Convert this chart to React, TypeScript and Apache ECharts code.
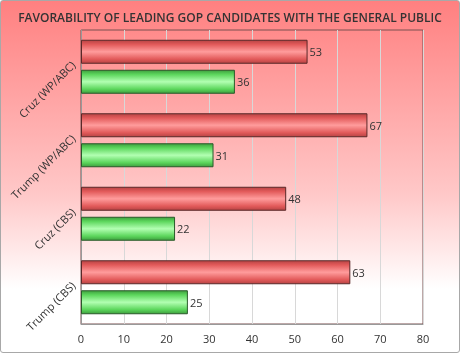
import React, { useEffect, useRef } from "react";
import * as echarts from "echarts";

const categories = ["Cruz (WP/ABC)", "Trump (WP/ABC)", "Cruz (CBS)", "Trump (CBS)"];
const unfavorable = [53, 67, 48, 63];
const favorable = [36, 31, 22, 25];
const xTicks = { min: 0, max: 80, interval: 10 };
const title = "FAVORABILITY OF LEADING GOP CANDIDATES WITH THE GENERAL PUBLIC";

const FONT = "'Open Sans', 'DejaVu Sans', sans-serif";

const redGrad = new echarts.graphic.LinearGradient(0, 0, 0, 1, [
  { offset: 0, color: "#b84444" },
  { offset: 0.18, color: "#e25a5a" },
  { offset: 0.5, color: "#ff9c9c" },
  { offset: 0.82, color: "#e25a5a" },
  { offset: 1, color: "#b84444" },
]);
const greenGrad = new echarts.graphic.LinearGradient(0, 0, 0, 1, [
  { offset: 0, color: "#3fa03f" },
  { offset: 0.18, color: "#5cd65c" },
  { offset: 0.5, color: "#b2ffb2" },
  { offset: 0.82, color: "#5cd65c" },
  { offset: 1, color: "#3fa03f" },
]);

export default function App() {
  const ref = useRef<HTMLDivElement>(null);
  useEffect(() => {
    if (!ref.current) return;
    const chart = echarts.init(ref.current, undefined, { renderer: "svg" });
    const label = {
      show: true,
      position: "right" as const,
      distance: 2,
      color: "#333",
      fontSize: 11,
      fontFamily: FONT,
    };
    chart.setOption({
      animation: false,
      title: {
        text: title,
        left: "center",
        top: 6,
        textStyle: { fontSize: 12, fontWeight: 600, color: "#333", fontFamily: FONT },
      },
      grid: {
        left: 81,
        right: 37,
        top: 30,
        bottom: 29,
        show: true,
        borderColor: "#7a5050",
        borderWidth: 1,
        backgroundColor: "transparent",
      },
      xAxis: {
        type: "value",
        min: xTicks.min,
        max: xTicks.max,
        interval: xTicks.interval,
        axisLine: { show: true, lineStyle: { color: "#999" } },
        axisTick: { show: false },
        splitLine: { show: true, lineStyle: { color: "#d8d8d8" } },
        axisLabel: { color: "#333", fontSize: 11, fontFamily: FONT, margin: 9 },
      },
      yAxis: {
        type: "category",
        data: categories,
        inverse: true,
        axisLine: { show: true, lineStyle: { color: "#999" } },
        axisTick: { show: false },
        axisLabel: {
          rotate: 45,
          color: "#333",
          fontSize: 11,
          fontFamily: FONT,
          margin: 4,
          verticalAlign: "bottom",
        },
      },
      series: [
        {
          type: "bar",
          data: unfavorable,
          barWidth: 24,
          barGap: "25%",
          itemStyle: { color: redGrad, borderColor: "#5a2828", borderWidth: 1 },
          label,
        },
        {
          type: "bar",
          data: favorable,
          barWidth: 24,
          barGap: "25%",
          itemStyle: { color: greenGrad, borderColor: "#2a5a2a", borderWidth: 1 },
          label,
        },
      ],
    });
    return () => chart.dispose();
  }, []);
  return (
    <>
      <div
        style={{
          position: "fixed",
          left: 0,
          top: 0,
          width: 460,
          height: 353,
          boxSizing: "border-box",
          border: "1px solid #a8a8a8",
          borderRadius: 3,
          background: "linear-gradient(to bottom, #ff8080 0%, #ffc8c8 55%, #ffffff 82%)",
        }}
      />
      <div ref={ref} style={{ position: "fixed", left: 0, top: 0, width: 460, height: 353 }} />
    </>
  );
}
